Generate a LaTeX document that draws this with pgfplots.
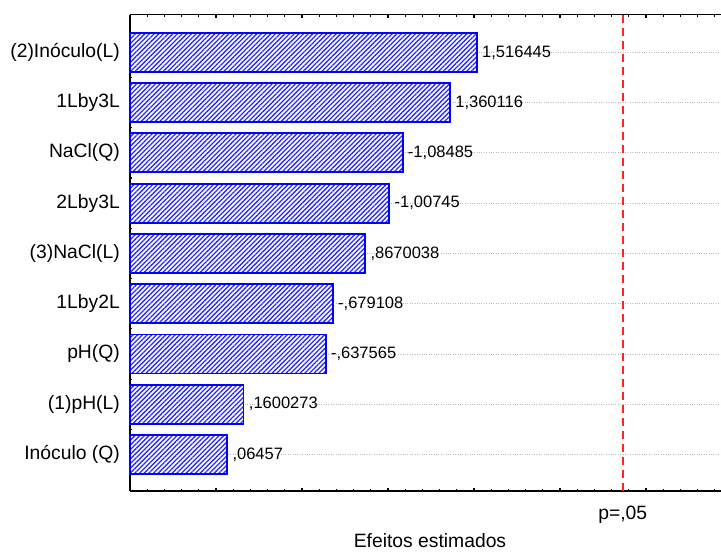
\documentclass[border=0pt]{standalone}
\usepackage{pgfplots}
\pgfplotsset{compat=1.18}
\usepackage{pgfplotstable}
\usetikzlibrary{patterns.meta}
\usepackage{fontspec}
\setmainfont{Liberation Sans}

% Standardized effects (t values) of the factors; the label shows the signed value
\pgfplotstableread[col sep=semicolon]{
y;t;lab
9;1.516445;1,516445
8;1.360116;1,360116
7;-1.08485;-1,08485
6;-1.00745;-1,00745
5;0.8670038;,8670038
4;-0.679108;-,679108
3;-0.637565;-,637565
2;0.1600273;,1600273
1;0.06457;,06457
}\effects

\definecolor{barblue}{RGB}{0,0,255}
\definecolor{hatchblue}{RGB}{40,40,255}
\definecolor{critred}{RGB}{255,35,35}

\begin{document}
\begin{tikzpicture}
\begin{axis}[
  at={(0,0)}, anchor=south west,
  scale only axis,
  width=591bp, height=476.3bp,
  % bars are measured from the left edge of the scale (-0.5), plotted as |t|
  x filter/.expression={abs(x)+0.5},
  xmin=0, xmax=3.436,
  ymin=0.274, ymax=9.748,
  axis x line*=box,
  axis y line*=left,
  axis line style={-, line width=1.5bp, black},
  xtick={0,0.5,...,3.5},
  minor x tick num=4,
  xticklabels={},
  ytick={1,...,9},
  minor y tick num=1,
  yticklabels={Inóculo (Q),(1)pH(L),pH(Q),1Lby2L,(3)NaCl(L),2Lby3L,NaCl(Q),1Lby3L,(2)Inóculo(L)},
  yticklabel style={font=\fontsize{19.3bp}{22bp}\selectfont, inner sep=0bp},
  yticklabel shift=10bp,
  tick style={black, line width=1.1bp},
  major tick length=3.5bp,
  minor tick length=2bp,
  ymajorgrids,
  major grid style={gray!55, dotted, line width=0.9bp},
  xlabel={Efeitos estimados},
  xlabel style={at={(axis description cs:0.5,0)}, anchor=base, yshift=-56.5bp, xshift=4.5bp,
                font=\fontsize{19.3bp}{22bp}\selectfont},
  clip=false,
]
\addplot[
  xbar, bar width=39bp,
  draw=barblue, line width=1.8bp,
  preaction={fill=white},
  pattern={Lines[angle=45, distance=3.3bp, line width=1.3bp]},
  pattern color=hatchblue,
  point meta=explicit symbolic,
  nodes near coords,
  every node near coord/.append style={anchor=west, inner sep=0bp, xshift=4.5bp,
      text=black, font=\fontsize{16.5bp}{19bp}\selectfont},
] table[x=t, y=y, meta=lab] {\effects};

% critical value of the t statistic at p = .05
\addplot[critred, line width=1.8bp, dash pattern=on 8bp off 5bp]
  coordinates {(2.3646,0.274) (2.3646,9.748)}
  node[pos=0, anchor=base, yshift=-28bp, text=black, solid,
       font=\fontsize{19.3bp}{22bp}\selectfont] {p=,05};
\end{axis}
\pgfresetboundingbox
\path[use as bounding box] (-130bp,-61bp) rectangle (591bp,491bp);
\end{tikzpicture}
\end{document}
